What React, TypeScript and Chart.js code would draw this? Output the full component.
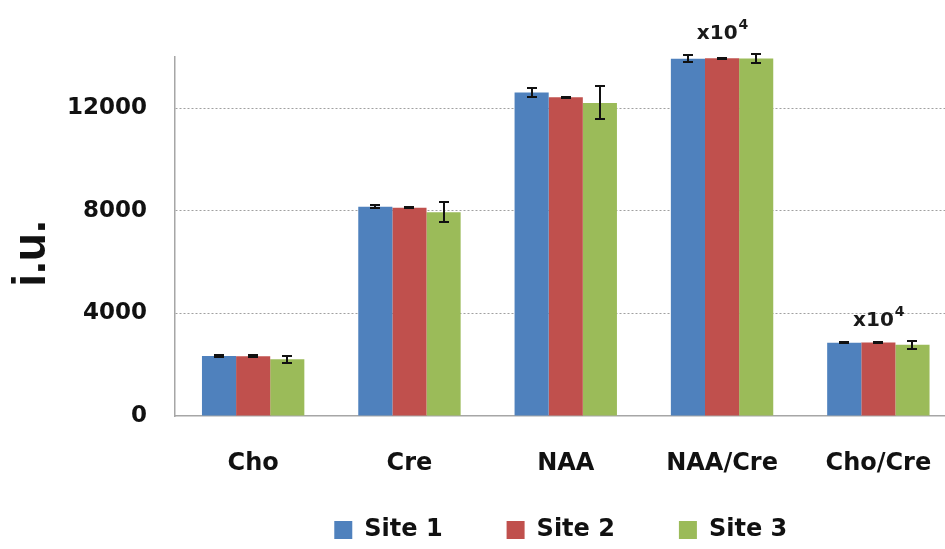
import React, { useEffect, useRef } from 'react';
import { Chart, registerables } from 'chart.js';

Chart.register(...registerables);

// ---- data ----
const categories = ['Cho', 'Cre', 'NAA', 'NAA/Cre', 'Cho/Cre'];
const seriesNames = ['Site 1', 'Site 2', 'Site 3'];
const site1 = [2340, 8160, 12620, 13930, 2860];
const site2 = [2330, 8120, 12430, 13950, 2870];
const site3 = [2210, 7950, 12210, 13940, 2780];
const site1Err = [25, 50, 170, 140, 20];
const site2Err = [30, 20, 25, 20, 35];
const site3Err = [145, 400, 640, 160, 155];
const yTickValues = [0, 4000, 8000, 12000];
const yMax = 14000;
const noteBase = ['', '', '', 'x10', 'x10'];
const noteExp = ['', '', '', '4', '4'];
const yTitle = 'i.u.';

const seriesColors = ['#4F81BD', '#C0504D', '#9BBB59'];
const seriesValues = [site1, site2, site3];
const seriesErrors = [site1Err, site2Err, site3Err];

const FONT = "'DejaVu Sans', sans-serif";

const errorBarPlugin = {
  id: 'errorBars',
  afterDatasetsDraw(chart: any) {
    const ctx = chart.ctx;
    const y = chart.scales.y;
    ctx.save();
    ctx.strokeStyle = '#111';
    ctx.lineWidth = 2;
    chart.data.datasets.forEach((ds: any, i: number) => {
      const meta = chart.getDatasetMeta(i);
      const errs = seriesErrors[i];
      meta.data.forEach((bar: any, j: number) => {
        const v = ds.data[j];
        const e = errs[j];
        const yTop = Math.round(y.getPixelForValue(v + e));
        const yBot = Math.round(y.getPixelForValue(v - e));
        const x = Math.round(bar.x);
        ctx.beginPath();
        ctx.moveTo(x, yTop);
        ctx.lineTo(x, yBot);
        ctx.moveTo(x - 5, yTop);
        ctx.lineTo(x + 5, yTop);
        ctx.moveTo(x - 5, yBot);
        ctx.lineTo(x + 5, yBot);
        ctx.stroke();
      });
    });
    ctx.restore();
  },
};

const notePlugin = {
  id: 'notes',
  afterDatasetsDraw(chart: any) {
    const ctx = chart.ctx;
    const y = chart.scales.y;
    ctx.save();
    ctx.fillStyle = '#1a1a1a';
    ctx.textBaseline = 'alphabetic';
    ctx.textAlign = 'left';
    categories.forEach((_, j) => {
      if (!noteBase[j]) return;
      let topPx = Infinity;
      let sumX = 0;
      chart.data.datasets.forEach((ds: any, i: number) => {
        const bar = chart.getDatasetMeta(i).data[j];
        sumX += bar.x;
        topPx = Math.min(topPx, y.getPixelForValue(ds.data[j] + seriesErrors[i][j]));
      });
      const cx = sumX / chart.data.datasets.length;
      ctx.font = `bold 20px ${FONT}`;
      const w1 = ctx.measureText(noteBase[j]).width;
      ctx.font = `bold 14px ${FONT}`;
      const w2 = ctx.measureText(noteExp[j]).width;
      const startX = cx - (w1 + w2) / 2;
      const base = topPx - 15;
      ctx.font = `bold 20px ${FONT}`;
      ctx.fillText(noteBase[j], startX, base);
      ctx.font = `bold 14px ${FONT}`;
      ctx.fillText(noteExp[j], startX + w1 + 1, base - 10);
    });
    ctx.restore();
  },
};

const titlePlugin = {
  id: 'yTitle',
  afterDraw(chart: any) {
    const ctx = chart.ctx;
    const area = chart.chartArea;
    ctx.save();
    ctx.translate(45, (area.top + area.bottom) / 2 + 17);
    ctx.rotate(-Math.PI / 2);
    ctx.font = "bold 46px 'Liberation Sans', Arial, sans-serif";
    ctx.fillStyle = '#111';
    ctx.textAlign = 'center';
    ctx.textBaseline = 'alphabetic';
    ctx.fillText(yTitle, 0, 0);
    ctx.restore();
  },
};

const layoutTweakPlugin = {
  id: 'layoutTweak',
  afterLayout(chart: any) {
    const lg = chart.legend;
    const area = chart.chartArea;
    if (lg && area) {
      const shift = (area.left + area.right - (lg.left + lg.right)) / 2 - 5;
      lg.left += shift;
      lg.right += shift;
      lg.top += 3;
      lg.bottom += 3;
    }
    const xs = chart.scales.x;
    if (xs) xs.bottom = chart.height;
  },
};

export default function App() {
  const ref = useRef<HTMLCanvasElement | null>(null);

  useEffect(() => {
    if (!ref.current) return;
    const chart = new Chart(ref.current, {
      type: 'bar',
      data: {
        labels: categories,
        datasets: seriesNames.map((name, i) => ({
          label: name,
          data: seriesValues[i],
          backgroundColor: seriesColors[i],
          borderWidth: 0,
          categoryPercentage: 0.655,
          barPercentage: 1.0,
        })),
      },
      options: {
        animation: false,
        responsive: false,
        devicePixelRatio: 1,
        layout: { autoPadding: false, padding: { left: 0, right: 8, top: 57, bottom: 0 } },
        plugins: {
          legend: {
            position: 'bottom',
            labels: {
              boxWidth: 18,
              boxHeight: 18,
              padding: 64,
              color: '#111',
              font: { family: FONT, size: 24, weight: 'bold' },
            },
          },
          tooltip: { enabled: false },
          title: { display: false },
        },
        scales: {
          x: {
            grid: { display: false, drawTicks: false },
            border: { display: true, color: '#a6a6a6', width: 1.5 },
            ticks: {
              padding: 33,
              color: '#111',
              font: { family: FONT, size: 24, weight: 'bold' },
              maxRotation: 0,
              autoSkip: false,
            },
            afterFit: (s: any) => {
              s.height = 35;
            },
          },
          y: {
            min: 0,
            max: yMax,
            grid: {
              drawTicks: false,
              color: (c: any) => (c.tick && c.tick.value === 0 ? 'rgba(0,0,0,0)' : '#a0a0a0'),
              lineWidth: 1,
            },
            border: { display: true, color: '#a6a6a6', width: 1.5, dash: [2, 2] },
            ticks: {
              padding: 28,
              color: '#111',
              font: { family: FONT, size: 23, weight: 'bold' },
              includeBounds: false,
              callback: (v: any) => String(v),
            },
            afterBuildTicks: (s: any) => {
              s.ticks = yTickValues.map((v) => ({ value: v }));
            },
            afterFit: (s: any) => {
              s.width = 175;
            },
          },
        },
      },
      plugins: [errorBarPlugin, notePlugin, titlePlugin, layoutTweakPlugin],
    } as any);
    return () => chart.destroy();
  }, []);

  return (
    <div
      style={{
        position: 'fixed',
        left: 0,
        top: 0,
        width: 945,
        height: 549,
        overflow: 'hidden',
        background: '#ffffff',
      }}
    >
      <canvas ref={ref} width={965} height={549} style={{ display: 'block', width: 965, height: 549 }} />
    </div>
  );
}
